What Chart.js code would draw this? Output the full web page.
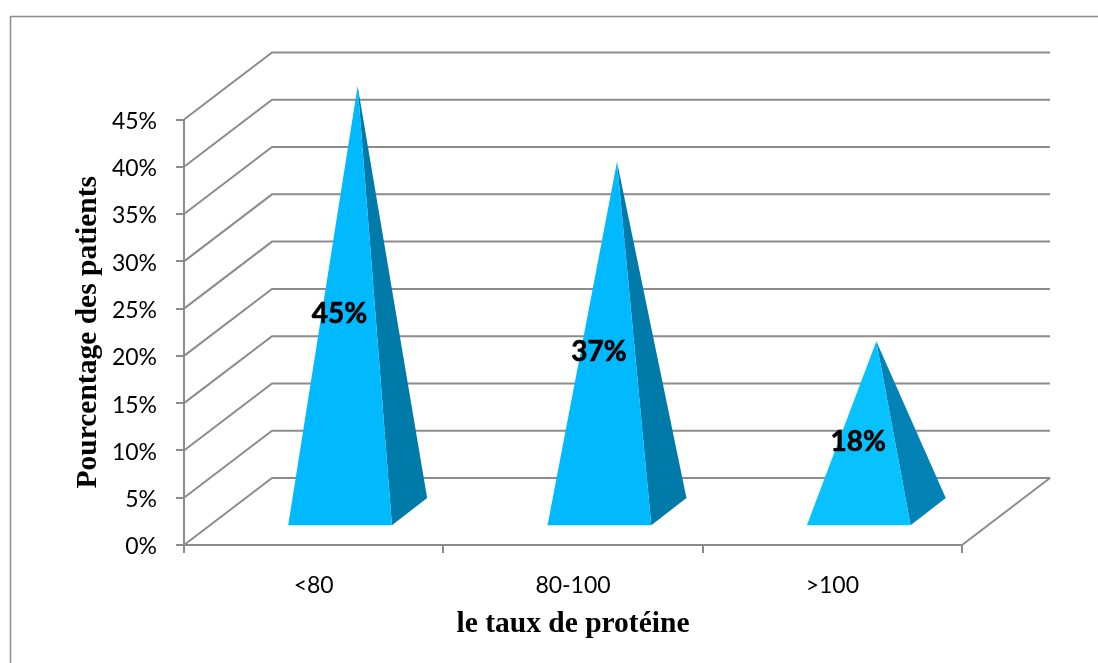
<!DOCTYPE html>
<html lang="fr">
<head>
<meta charset="utf-8">
<title>Pourcentage des patients selon le taux de protéine</title>
<script src="https://cdn.jsdelivr.net/npm/chart.js@4"></script>
<style>
  html, body { margin: 0; padding: 0; background: #fff; overflow: hidden; }
  canvas { display: block; }
</style>
</head>
<body>
<canvas id="chart" width="1098" height="663"></canvas>
<script>
const categories = ['<80', '80-100', '>100'];
const patientShare = [45, 37, 18];
const frontFaceColors = ['#00B9FF', '#00B9FF', '#08C2FF'];
const sideFaceColors = ['#007AA8', '#007AA8', '#0383B5'];

const lineGrey = '#8C8C8C';
const depthX = 88;
const depthY = -67;
const frontPlaneX = 0.3;
const backPlaneX = 0.7;
const frontPlaneY = 0.28;
const backPlaneY = 0.685;

// Pyramids standing inside the floor depth, with apex and base taken from the bar geometry.
class PyramidController extends Chart.BarController {
  draw() {
    const ctx = this.chart.ctx;
    const meta = this.getMeta();
    const yScale = this._cachedMeta.vScale;
    const data = this.getDataset().data;
    meta.data.forEach((bar, i) => {
      const half = bar.width / 2;
      const fx = bar.x + depthX * frontPlaneX, fy = bar.base + depthY * frontPlaneY;
      const bx = bar.x + depthX * backPlaneX, by = bar.base + depthY * backPlaneY;
      const apexX = bar.x + depthX / 2, apexY = bar.y + depthY / 2;

      ctx.fillStyle = sideFaceColors[i];
      ctx.beginPath();
      ctx.moveTo(fx + half, fy);
      ctx.lineTo(bx + half, by);
      ctx.lineTo(apexX, apexY);
      ctx.closePath();
      ctx.fill();

      ctx.fillStyle = frontFaceColors[i];
      ctx.beginPath();
      ctx.moveTo(fx - half, fy);
      ctx.lineTo(fx + half, fy);
      ctx.lineTo(apexX, apexY);
      ctx.closePath();
      ctx.fill();

      // Value label, at half height of the mark
      const labelY = yScale.getPixelForValue(data[i] / 2) - 18;
      ctx.fillStyle = '#000';
      ctx.strokeStyle = '#000';
      ctx.lineWidth = 0.6;
      ctx.font = 'bold 28px Lato';
      ctx.textAlign = 'center';
      ctx.textBaseline = 'middle';
      ctx.fillText(data[i] + '%', fx - 0.5, labelY);
      ctx.strokeText(data[i] + '%', fx - 0.5, labelY);
    });
  }
}
PyramidController.id = 'pyramid';
PyramidController.defaults = Chart.BarController.defaults;
PyramidController.overrides = Chart.BarController.overrides;
Chart.register(PyramidController);

// Outer frame plus the floor and back-wall lines of the 3D box.
const boxPlugin = {
  id: 'box',
  beforeDatasetsDraw(chart) {
    const { ctx, scales: { x, y } } = chart;
    const left = x.left, right = x.right;
    ctx.save();
    ctx.strokeStyle = lineGrey;
    ctx.lineWidth = 2;
    y.ticks.forEach(t => {
      const py = y.getPixelForValue(t.value);
      ctx.beginPath();
      ctx.moveTo(left, py);
      ctx.lineTo(left + depthX, py + depthY);
      ctx.lineTo(right + depthX, py + depthY);
      ctx.stroke();
    });
    const floorY = y.getPixelForValue(0);
    ctx.beginPath();
    ctx.moveTo(right, floorY);
    ctx.lineTo(right + depthX, floorY + depthY);
    ctx.stroke();
    ctx.restore();
  },
  beforeDraw(chart) {
    const ctx = chart.ctx;
    ctx.save();
    ctx.strokeStyle = lineGrey;
    ctx.lineWidth = 1.5;
    ctx.beginPath();
    ctx.moveTo(10.5, chart.height);
    ctx.lineTo(10.5, 16.5);
    ctx.lineTo(chart.width, 16.5);
    ctx.stroke();
    ctx.restore();
  }
};

new Chart(document.getElementById('chart'), {
  type: 'pyramid',
  data: {
    labels: categories,
    datasets: [{
      label: 'Pourcentage des patients',
      data: patientShare,
      backgroundColor: frontFaceColors,
      categoryPercentage: 1,
      barPercentage: 0.4,
      clip: false
    }]
  },
  plugins: [boxPlugin],
  options: {
    responsive: false,
    animation: false,
    layout: { padding: { left: 0, top: 119.5, right: 136, bottom: 0 } },
    plugins: { legend: { display: false }, tooltip: { enabled: false } },
    scales: {
      x: {
        afterFit(scale) { scale.height = 118; },
        grid: { drawOnChartArea: false, drawTicks: true, tickLength: 8, color: lineGrey, lineWidth: 2 },
        border: { color: lineGrey, width: 2 },
        ticks: { color: '#000', padding: 19, maxRotation: 0, font: { family: 'Lato', size: 23 } },
        title: {
          display: true,
          text: 'le taux de protéine',
          color: '#000',
          font: { family: 'Liberation Serif', size: 29.5, weight: 'bold' },
          padding: { top: 0, bottom: 21 }
        }
      },
      y: {
        min: 0,
        max: 45,
        afterFit(scale) { scale.width = 184; },
        grid: { drawOnChartArea: false, drawTicks: true, tickLength: 8, color: lineGrey, lineWidth: 2 },
        border: { color: lineGrey, width: 2 },
        ticks: {
          stepSize: 5,
          color: '#000',
          padding: 19,
          font: { family: 'Lato', size: 23, lineHeight: '4px' },
          // The empty first line drops the text slightly below its tick
          callback: v => ['', v + '%']
        },
        title: {
          display: true,
          text: 'Pourcentage des patients',
          color: '#000',
          font: { family: 'Liberation Serif', size: 29.5, weight: 'bold' },
          padding: { top: 71, bottom: 0 }
        }
      }
    }
  }
});
</script>
</body>
</html>
